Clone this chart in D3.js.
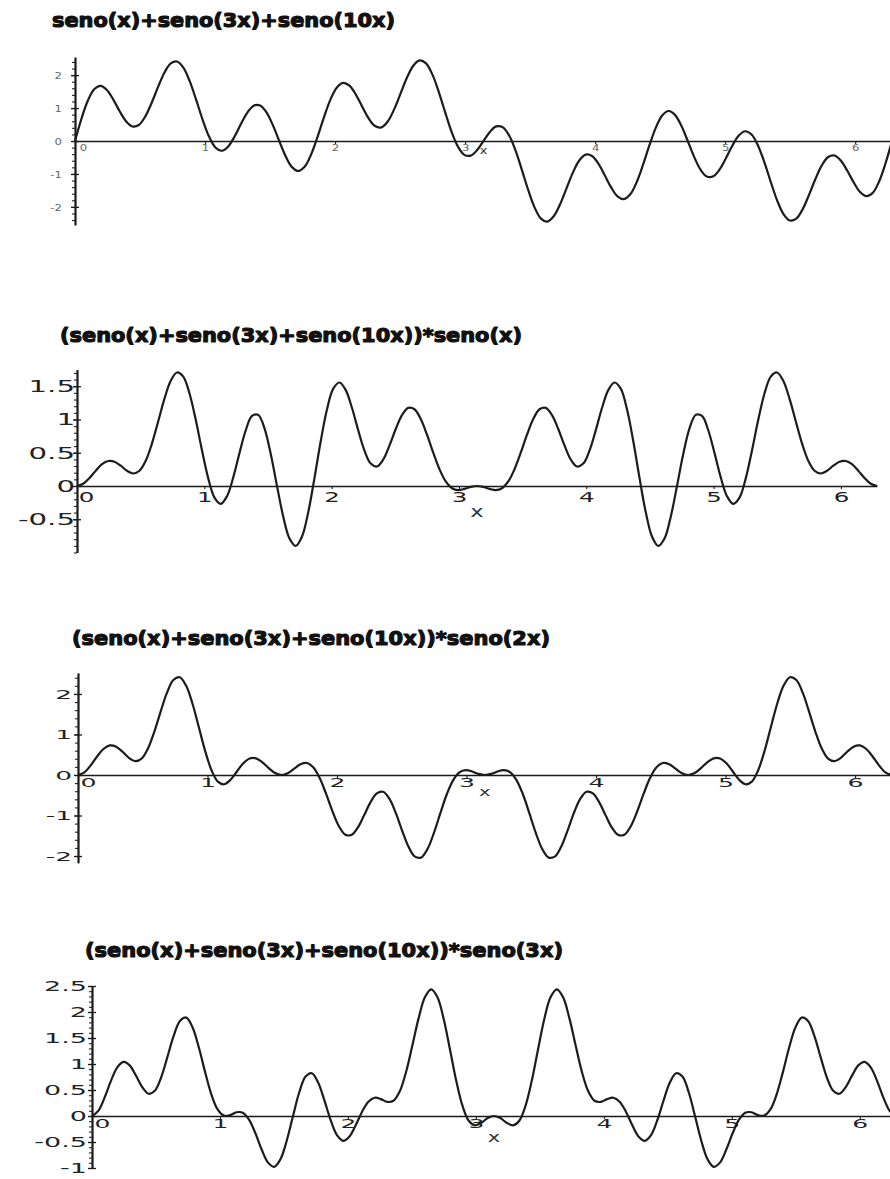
<!DOCTYPE html>
<html>
<head>
<meta charset="utf-8">
<script src="https://cdn.jsdelivr.net/npm/d3@7"></script>
<style>
  body { margin: 0; background: #fff; }
  svg { display: block; }
</style>
</head>
<body>
<div id="chart"></div>
<script>
// titles of the four plots
var titles = [
  "seno(x)+seno(3x)+seno(10x)",
  "(seno(x)+seno(3x)+seno(10x))*seno(x)",
  "(seno(x)+seno(3x)+seno(10x))*seno(2x)",
  "(seno(x)+seno(3x)+seno(10x))*seno(3x)"
];

// tick labels
var xTicks = [0, 1, 2, 3, 4, 5, 6];
var yTicks1 = [-2, -1, 0, 1, 2];
var yTicks2 = [-0.5, 0, 0.5, 1, 1.5];
var yTicks3 = [-2, -1, 0, 1, 2];
var yTicks4 = [-1, -0.5, 0, 0.5, 1, 1.5, 2, 2.5];

// samples are read every pi/64 along x, from 0 to 2*pi (129 points)
var xStep = Math.PI / 64;

var sumVals = [
  0, 0.667, 1.22, 1.57, 1.675, 1.549, 1.258, 0.904, 0.6, 0.441,
  0.486, 0.74, 1.154, 1.635, 2.072, 2.357, 2.414, 2.219, 1.8, 1.238,
  0.644, 0.134, -0.197, -0.296, -0.166, 0.137, 0.518, 0.863, 1.073, 1.08,
  0.87, 0.481, 0, -0.462, -0.793, -0.91, -0.775, -0.405, 0.127, 0.718,
  1.248, 1.618, 1.765, 1.68, 1.409, 1.042, 0.689, 0.455, 0.414, 0.593,
  0.961, 1.439, 1.919, 2.286, 2.447, 2.355, 2.014, 1.485, 0.868, 0.28,
  -0.173, -0.421, -0.443, -0.276, 0,
  0.276, 0.443, 0.421, 0.173, -0.28, -0.868, -1.485, -2.014, -2.355, -2.447,
  -2.286, -1.919, -1.439, -0.961, -0.593, -0.414, -0.455, -0.689, -1.042, -1.409,
  -1.68, -1.765, -1.618, -1.248, -0.718, -0.127, 0.405, 0.775, 0.91, 0.793,
  0.462, 0, -0.481, -0.87, -1.08, -1.073, -0.863, -0.518, -0.137, 0.166,
  0.296, 0.197, -0.134, -0.644, -1.238, -1.8, -2.219, -2.414, -2.357, -2.072,
  -1.635, -1.154, -0.74, -0.486, -0.441, -0.6, -0.904, -1.258, -1.549, -1.675,
  -1.57, -1.22, -0.667, 0
];

var timesSinX = [
  0, 0.033, 0.12, 0.23, 0.327, 0.376, 0.365, 0.305, 0.229, 0.188,
  0.229, 0.38, 0.641, 0.974, 1.314, 1.583, 1.707, 1.644, 1.391, 0.995,
  0.535, 0.115, -0.174, -0.268, -0.153, 0.129, 0.495, 0.838, 1.053, 1.069,
  0.866, 0.48, 0, -0.461, -0.789, -0.9, -0.76, -0.393, 0.122, 0.676,
  1.153, 1.463, 1.556, 1.441, 1.172, 0.837, 0.532, 0.337, 0.293, 0.398,
  0.61, 0.857, 1.066, 1.175, 1.154, 1.007, 0.771, 0.5, 0.252, 0.068,
  -0.034, -0.062, -0.043, -0.014, 0,
  -0.014, -0.043, -0.062, -0.034, 0.068, 0.252, 0.5, 0.771, 1.007, 1.154,
  1.175, 1.066, 0.857, 0.61, 0.398, 0.293, 0.337, 0.532, 0.837, 1.172,
  1.441, 1.556, 1.463, 1.153, 0.676, 0.122, -0.393, -0.76, -0.9, -0.789,
  -0.461, 0, 0.48, 0.866, 1.069, 1.053, 0.838, 0.495, 0.129, -0.153,
  -0.268, -0.174, 0.115, 0.535, 0.995, 1.391, 1.644, 1.707, 1.583, 1.314,
  0.974, 0.641, 0.38, 0.229, 0.188, 0.229, 0.305, 0.365, 0.376, 0.327,
  0.23, 0.12, 0.033, 0
];

var timesSin2x = [
  0, 0.065, 0.238, 0.456, 0.641, 0.73, 0.699, 0.574, 0.424, 0.341,
  0.404, 0.653, 1.066, 1.565, 2.032, 2.345, 2.414, 2.208, 1.765, 1.185,
  0.595, 0.118, -0.164, -0.229, -0.117, 0.087, 0.288, 0.407, 0.411, 0.314,
  0.17, 0.047, 0, 0.045, 0.155, 0.264, 0.296, 0.191, -0.071, -0.455,
  -0.883, -1.251, -1.467, -1.481, -1.302, -0.997, -0.676, -0.453, -0.414, -0.59,
  -0.942, -1.377, -1.773, -2.016, -2.035, -1.82, -1.424, -0.942, -0.482, -0.132,
  0.066, 0.122, 0.087, 0.027, 0,
  0.027, 0.087, 0.122, 0.066, -0.132, -0.482, -0.942, -1.424, -1.82, -2.035,
  -2.016, -1.773, -1.377, -0.942, -0.59, -0.414, -0.453, -0.676, -0.997, -1.302,
  -1.481, -1.467, -1.251, -0.883, -0.455, -0.071, 0.191, 0.296, 0.264, 0.155,
  0.045, 0, 0.047, 0.17, 0.314, 0.411, 0.407, 0.288, 0.087, -0.117,
  -0.229, -0.164, 0.118, 0.595, 1.185, 1.765, 2.208, 2.414, 2.345, 2.032,
  1.565, 1.066, 0.653, 0.404, 0.341, 0.424, 0.574, 0.699, 0.73, 0.641,
  0.456, 0.238, 0.065, 0
];

var timesSin3x = [
  0, 0.098, 0.354, 0.671, 0.93, 1.04, 0.973, 0.776, 0.554, 0.428,
  0.484, 0.739, 1.132, 1.54, 1.827, 1.893, 1.707, 1.322, 0.849, 0.417,
  0.126, 0.007, 0.019, 0.072, 0.064, -0.071, -0.328, -0.64, -0.892, -0.977,
  -0.832, -0.476, 0, 0.457, 0.759, 0.823, 0.644, 0.3, -0.081, -0.369,
  -0.478, -0.393, -0.173, 0.083, 0.275, 0.351, 0.325, 0.271, 0.293, 0.476,
  0.847, 1.355, 1.882, 2.283, 2.436, 2.284, 1.861, 1.274, 0.671, 0.188,
  -0.096, -0.18, -0.129, -0.04, 0,
  -0.04, -0.129, -0.18, -0.096, 0.188, 0.671, 1.274, 1.861, 2.284, 2.436,
  2.283, 1.882, 1.355, 0.847, 0.476, 0.293, 0.271, 0.325, 0.351, 0.275,
  0.083, -0.173, -0.393, -0.478, -0.369, -0.081, 0.3, 0.644, 0.823, 0.759,
  0.457, 0, -0.476, -0.832, -0.977, -0.892, -0.64, -0.328, -0.071, 0.064,
  0.072, 0.019, 0.007, 0.126, 0.417, 0.849, 1.322, 1.707, 1.893, 1.827,
  1.54, 1.132, 0.739, 0.484, 0.428, 0.554, 0.776, 0.973, 1.04, 0.93,
  0.671, 0.354, 0.098, 0
];

var seriesList = [sumVals, timesSinX, timesSin2x, timesSin3x];
var yTickList = [yTicks1, yTicks2, yTicks3, yTicks4];

// where each plot sits on the page (pixels)
var layout = [
  { x0: 75, x1: 892, yDom: [-2.55, 2.55], yRange: [225, 57], minor: 0.2,
    title: { x: 52, y: 27, w: 343 },
    ylab: { size: 9, sx: 1.3, gap: 13, fill: "#666" },
    xlab: { size: 9, sx: 1.3, off: 10, zeroDx: 8, fill: "#666" },
    xname: { size: 10, sx: 1.3, off: 13 } },
  { x0: 77, x1: 877, yDom: [-1, 1.75], yRange: [552.5, 369.6], minor: 0.1,
    title: { x: 60, y: 342, w: 462 },
    ylab: { size: 15, sx: 1.95, gap: 2, fill: "#222" },
    xlab: { size: 14, sx: 1.75, off: 16, zeroDx: 9, fill: "#222" },
    xname: { size: 15, sx: 1.5, off: 31 } },
  { x0: 78, x1: 891.7, yDom: [-2.17, 2.52], yRange: [862.9, 672.9], minor: 0.2,
    title: { x: 72, y: 645, w: 478 },
    ylab: { size: 12, sx: 2.2, gap: 6, fill: "#222" },
    xlab: { size: 12, sx: 2.1, off: 12, zeroDx: 10, fill: "#222" },
    xname: { size: 13, sx: 1.5, off: 21 } },
  { x0: 92, x1: 896, yDom: [-1, 2.5], yRange: [1168, 986], minor: 0.1,
    title: { x: 85, y: 957, w: 478 },
    ylab: { size: 13.5, sx: 2.0, gap: 5, fill: "#222" },
    xlab: { size: 12.5, sx: 2.0, off: 12, zeroDx: 10, fill: "#222" },
    xname: { size: 14, sx: 1.5, off: 26 } }
];

var svg = d3.select("#chart")
  .append("svg")
    .attr("width", 890)
    .attr("height", 1179)
    .style("background-color", "#fff");

var font = "'DejaVu Sans', 'Liberation Sans', sans-serif";

layout.forEach(function(p, k) {
  var x = d3.scaleLinear().domain([0, 2 * Math.PI]).range([p.x0, p.x1]);
  var y = d3.scaleLinear().domain(p.yDom).range(p.yRange);
  var g = svg.append("g");

  // heavy title
  g.append("text")
    .attr("x", p.title.x)
    .attr("y", p.title.y)
    .attr("textLength", p.title.w)
    .attr("lengthAdjust", "spacingAndGlyphs")
    .style("font-family", font)
    .style("font-weight", "bold")
    .style("font-size", "20px")
    .style("fill", "#111")
    .style("stroke", "#111")
    .style("stroke-width", 1.2)
    .style("stroke-linejoin", "round")
    .text(titles[k]);

  // minor ticks on the y axis
  var minorVals = d3.range(Math.ceil(p.yDom[0] / p.minor), Math.floor(p.yDom[1] / p.minor) + 1)
    .map(function(d) { return +(d * p.minor).toFixed(2); });
  var yMinor = g.append("g")
    .attr("transform", "translate(" + x(0) + ",0)")
    .call(d3.axisLeft(y).tickValues(minorVals).tickSize(3).tickSizeOuter(0).tickFormat(""));
  yMinor.select(".domain").remove();
  yMinor.selectAll(".tick line").attr("stroke", "#222").attr("stroke-width", 1.1);

  // y axis with labels
  var yAx = g.append("g")
    .attr("transform", "translate(" + x(0) + ",0)")
    .call(d3.axisLeft(y).tickValues(yTickList[k]).tickSize(4).tickSizeOuter(0)
      .tickFormat(function(d) { return String(d); }));
  yAx.select(".domain").attr("stroke", "#1a1a1a").attr("stroke-width", 2.2);
  yAx.selectAll(".tick line").attr("x2", -4).attr("x1", 4).attr("stroke", "#1a1a1a").attr("stroke-width", 1.3);
  yAx.selectAll(".tick text")
    .attr("x", null)
    .attr("dy", "0.36em")
    .attr("transform", "translate(" + (-p.ylab.gap) + ",0) scale(" + p.ylab.sx + ",1)")
    .style("font-family", font)
    .style("font-size", p.ylab.size + "px")
    .style("fill", p.ylab.fill);

  // x axis with labels
  var xAx = g.append("g")
    .attr("transform", "translate(0," + y(0) + ")")
    .call(d3.axisBottom(x).tickValues(xTicks).tickSize(3).tickSizeOuter(0)
      .tickFormat(function(d) { return String(d); }));
  xAx.select(".domain").attr("stroke", "#1a1a1a").attr("stroke-width", 1.5);
  xAx.selectAll(".tick line").attr("stroke", "#1a1a1a").attr("stroke-width", 1.1);
  xAx.selectAll(".tick text")
    .attr("y", null)
    .attr("dy", null)
    .attr("transform", function(d) {
      return "translate(" + (d === 0 ? p.xlab.zeroDx : 0) + "," + p.xlab.off + ") scale(" + p.xlab.sx + ",1)";
    })
    .style("font-family", font)
    .style("font-size", p.xlab.size + "px")
    .style("fill", p.xlab.fill);

  // axis name
  g.append("text")
    .attr("transform", "translate(" + ((p.x0 + p.x1) / 2) + "," + (y(0) + p.xname.off) + ") scale(" + p.xname.sx + ",1)")
    .attr("text-anchor", "middle")
    .style("font-family", font)
    .style("font-size", p.xname.size + "px")
    .style("fill", "#333")
    .text("x");

  // the curve
  var line = d3.line()
    .x(function(d, i) { return x(i * xStep); })
    .y(function(d) { return y(d); })
    .curve(d3.curveCatmullRom.alpha(0.5));

  g.append("path")
    .datum(seriesList[k])
    .attr("d", line)
    .attr("fill", "none")
    .attr("stroke", "#1c1c1c")
    .attr("stroke-width", 2.2)
    .attr("stroke-linejoin", "round");
});
</script>
</body>
</html>
